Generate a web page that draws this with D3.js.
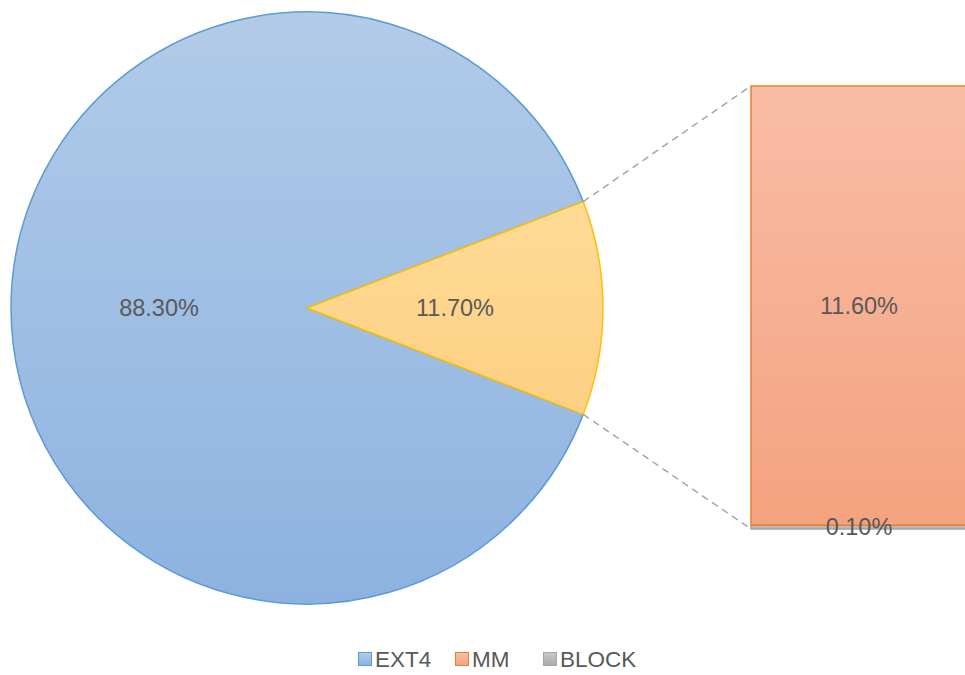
<!DOCTYPE html>
<html>
<head>
<meta charset="utf-8">
<script src="https://cdn.jsdelivr.net/npm/d3@7"></script>
<style>
  html, body { margin: 0; padding: 0; background: #fff; overflow: hidden; }
  svg { display: block; }
  text { font-family: "Liberation Sans", Arial, sans-serif; fill: #595959; }
</style>
</head>
<body>
<svg id="chart" width="965" height="675"></svg>
<script>
// Primary pie: EXT4 vs. the part broken out into the bar
const pieLabels = ["EXT4", "Other"];
const pieValues = [88.3, 11.7];

// Secondary bar: breakdown of the "Other" slice (top to bottom)
const barCategories = ["MM", "BLOCK"];
const barValues = [11.6, 0.1];

// Legend entries
const legendLabels = ["EXT4", "MM", "BLOCK"];

const fmt = v => v.toFixed(2) + "%";

const svg = d3.select("#chart");
const defs = svg.append("defs");

function vGrad(id, top, bottom) {
  const g = defs.append("linearGradient").attr("id", id)
    .attr("x1", 0).attr("y1", 0).attr("x2", 0).attr("y2", 1);
  g.append("stop").attr("offset", "0%").attr("stop-color", top);
  g.append("stop").attr("offset", "100%").attr("stop-color", bottom);
}
vGrad("gBlue", "#b2cbe8", "#8db2e0");
vGrad("gYellow", "#ffdb96", "#fdd083");
vGrad("gOrange", "#f8bda6", "#f5a27f");
vGrad("gGray", "#c9c9c9", "#a9a9a9");

const fills = { EXT4: "url(#gBlue)", Other: "url(#gYellow)", MM: "url(#gOrange)", BLOCK: "url(#gGray)" };
const strokes = { EXT4: "#5b9bd5", Other: "#ffc000", MM: "#ed7d31", BLOCK: "#a5a5a5" };

// ---- Pie ----
const cx = 307, cy = 308, r = 296;
const otherFrac = pieValues[1] / d3.sum(pieValues);
const half = otherFrac * Math.PI; // half of the broken-out slice angle
const pie = d3.pie().sort(null)
  .startAngle(Math.PI / 2 + half)
  .endAngle(Math.PI / 2 + half + 2 * Math.PI);
const arcs = pie(pieValues);
const arc = d3.arc().innerRadius(0).outerRadius(r);
const labelArc = d3.arc().innerRadius(r * 0.5).outerRadius(r * 0.5);

const pg = svg.append("g").attr("transform", `translate(${cx},${cy})`);
pg.selectAll("path").data(arcs).join("path")
  .attr("d", arc)
  .attr("fill", (d, i) => fills[pieLabels[i]])
  .attr("stroke", (d, i) => strokes[pieLabels[i]])
  .attr("stroke-width", 1.5)
  .attr("stroke-linejoin", "round");

pg.selectAll("text").data(arcs).join("text")
  .attr("transform", d => `translate(${labelArc.centroid(d)})`)
  .attr("text-anchor", "middle")
  .attr("dy", "0.35em")
  .attr("font-size", 23.5)
  .text((d, i) => fmt(pieValues[i]));

// ---- Bar ----
const barX = 751, barW = 216;
const y = d3.scaleLinear().domain([0, d3.sum(barValues)]).range([529, 86]);
// stack from the bottom: last category sits at the base
let acc = 0;
const segs = barValues.map((v, i) => ({ name: barCategories[i], v })).reverse().map(s => {
  s.y0 = acc; s.y1 = acc + s.v; acc += s.v;
  return s;
});

// connector lines from the slice edges to the bar
const other = arcs[1];
const pA = [cx + r * Math.sin(other.startAngle), cy - r * Math.cos(other.startAngle)];
const pB = [cx + r * Math.sin(other.endAngle), cy - r * Math.cos(other.endAngle)];
const [pTop, pBot] = pA[1] < pB[1] ? [pA, pB] : [pB, pA];
const connectors = [
  [pTop, [barX, y(d3.sum(barValues))]],
  [pBot, [barX, y(0)]]
];
svg.append("g").selectAll("line").data(connectors).join("line")
  .attr("x1", d => d[0][0]).attr("y1", d => d[0][1])
  .attr("x2", d => d[1][0]).attr("y2", d => d[1][1])
  .attr("stroke", "#a6a6a6").attr("stroke-width", 1.5).attr("stroke-dasharray", "7,5");

const bg = svg.append("g");
bg.selectAll("rect").data(segs).join("rect")
  .attr("x", barX)
  .attr("y", d => y(d.y1))
  .attr("width", barW)
  .attr("height", d => y(d.y0) - y(d.y1))
  .attr("fill", d => fills[d.name])
  .attr("stroke", d => strokes[d.name])
  .attr("stroke-width", 1.5);

bg.selectAll("text").data(segs).join("text")
  .attr("x", barX + barW / 2)
  .attr("y", d => (y(d.y0) + y(d.y1)) / 2)
  .attr("text-anchor", "middle")
  .attr("dy", "0.35em")
  .attr("font-size", 23.5)
  .text(d => fmt(d.v));

// ---- Legend ----
const legendX = [358, 455, 543];
const lg = svg.append("g");
legendLabels.forEach((name, i) => {
  const g = lg.append("g").attr("transform", `translate(${legendX[i]},652)`);
  g.append("rect").attr("x", 0.5).attr("y", 0.5).attr("width", 13).attr("height", 13)
    .attr("fill", fills[name]).attr("stroke", strokes[name]).attr("stroke-width", 1);
  g.append("text").attr("x", 17).attr("y", 7.5).attr("dy", "0.35em")
    .attr("font-size", 22.5).text(name);
});
</script>
</body>
</html>
